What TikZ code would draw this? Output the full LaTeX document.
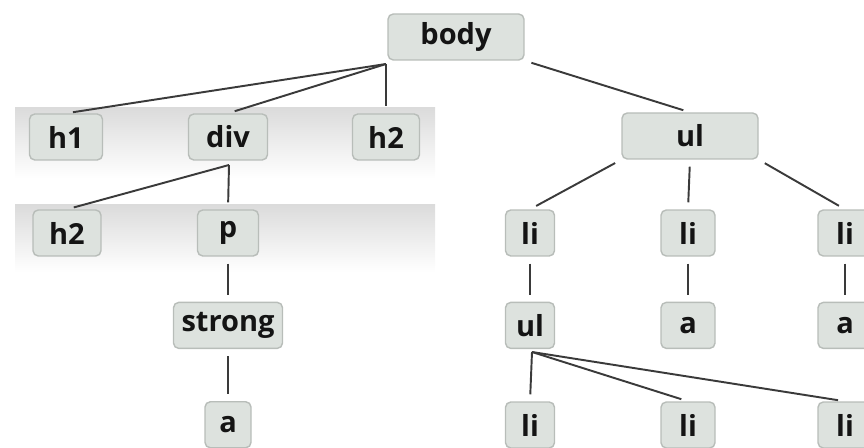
\documentclass[tikz,border=0pt]{standalone}
\usepackage{fontspec}
\setmainfont{Open Sans}
\usepackage{tikz}
\usetikzlibrary{positioning}
\definecolor{boxfill}{RGB}{221,226,222}
\definecolor{boxline}{RGB}{184,189,185}
\definecolor{linkcol}{RGB}{58,58,58}
\tikzset{
    tagnode/.style={rectangle,rounded corners=3pt,draw=boxline,fill=boxfill,thick,
      minimum height=0.92cm,inner sep=0pt,text centered,text=black!92,
      font=\fontsize{16.5}{20}\selectfont\bfseries},
    band/.style={top color=black!14,bottom color=white,draw=none},
    pil/.style={-,draw=linkcol,line width=1.1pt,shorten <=4pt,shorten >=4pt}
}

\begin{document}
\begin{tikzpicture}[x=0.02cm,y=-0.02cm]
    \useasboundingbox (0,0) rectangle (864,448);
    % grey bands behind the first two rows
    \fill[band] (15,108) rectangle (435,178);
    \fill[band] (15,205) rectangle (435,272);
    % root
    \node[tagnode, minimum width=2.72cm] (body) at (456,37) {body};
    \coordinate (bodyfork) at (386,64);
    % first row
    \node[tagnode, minimum width=1.46cm] (h1) at (66,137) {h1};
    \node[tagnode, minimum width=1.58cm] (div) at (228,137) {div};
    \node[tagnode, minimum width=1.34cm] (h2a) at (386,137) {h2};
    \node[tagnode, minimum width=2.72cm] (ul) at (690,136) {ul};
    \coordinate (divfork) at (229,165);
    % second row
    \node[tagnode, minimum width=1.36cm] (h2b) at (67,233) {h2};
    \node[tagnode, minimum width=1.22cm] (p) at (228,233) {p};
    \node[tagnode, minimum width=0.98cm] (li1) at (530,233) {li};
    \node[tagnode, minimum width=1.08cm] (li2) at (688,233) {li};
    \node[tagnode, minimum width=1.08cm] (li3) at (845,233) {li};
    % third row
    \node[tagnode, minimum width=2.18cm, below=0.9cm of p] (strong) {strong};
    \node[tagnode, minimum width=0.98cm, below=0.9cm of li1] (ul2) {ul};
    \node[tagnode, minimum width=1.08cm, below=0.9cm of li2] (a2) {a};
    \node[tagnode, minimum width=1.08cm, below=0.9cm of li3] (a3) {a};
    \coordinate (ulfork) at (532,352);
    % last row
    \node[tagnode, minimum width=0.92cm, below=1.04cm of strong] (a1) {a};
    \node[tagnode, minimum width=0.98cm] (li4) at (530,425) {li};
    \node[tagnode, minimum width=1.08cm] (li5) at (688,425) {li};
    \node[tagnode, minimum width=1.08cm] (li6) at (845,425) {li};
    % links
    \draw[pil, shorten <=0pt] (bodyfork) -- (h1.north);
    \draw[pil, shorten <=0pt] (bodyfork) -- (div.north);
    \draw[pil, shorten <=0pt] (bodyfork) -- (h2a.north);
    \draw[pil] (body.south east) -- (ul.north);
    \draw[pil, shorten <=0pt] (divfork) -- (h2b.north);
    \draw[pil, shorten <=0pt] (divfork) -- (p.north);
    \draw[pil] (p) -- (strong);
    \draw[pil] (strong) -- (a1);
    \draw[pil] (ul.south west) -- (li1.north);
    \draw[pil] (ul.south) -- (li2.north);
    \draw[pil] (ul.south east) -- (li3.north);
    \draw[pil] (li1) -- (ul2);
    \draw[pil] (li2) -- (a2);
    \draw[pil] (li3) -- (a3);
    \draw[pil, shorten <=0pt] (ulfork) -- (li4.north);
    \draw[pil, shorten <=0pt] (ulfork) -- (li5.north);
    \draw[pil, shorten <=0pt] (ulfork) -- (li6.north);
\end{tikzpicture}
\end{document}
